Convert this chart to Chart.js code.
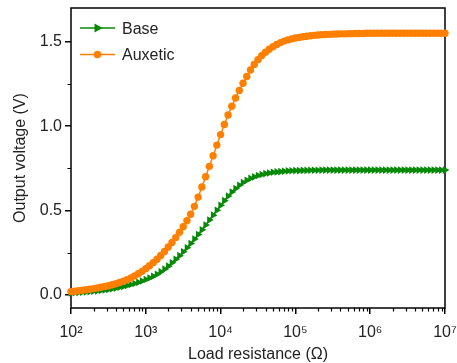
<!DOCTYPE html>
<html><head><meta charset="utf-8">
<script src="https://cdn.jsdelivr.net/npm/chart.js@4/dist/chart.umd.min.js"></script>
<style>html,body{margin:0;padding:0;background:#fff}#wrap{width:457px;height:363px}</style>
</head><body><div id="wrap"><canvas id="c" width="457" height="363"></canvas></div>
<script>
// log10 of load resistance (Ohm)
const exponents = [2.00,2.05,2.10,2.15,2.20,2.25,2.30,2.35,2.40,2.45,2.50,2.55,2.60,2.65,2.70,2.75,2.80,2.85,2.90,2.95,
3.00,3.05,3.10,3.15,3.20,3.25,3.30,3.35,3.40,3.45,3.50,3.55,3.60,3.65,3.70,3.75,3.80,3.85,3.90,3.95,
4.00,4.05,4.10,4.15,4.20,4.25,4.30,4.35,4.40,4.45,4.50,4.55,4.60,4.65,4.70,4.75,4.80,4.85,4.90,4.95,
5.00,5.05,5.10,5.15,5.20,5.25,5.30,5.35,5.40,5.45,5.50,5.55,5.60,5.65,5.70,5.75,5.80,5.85,5.90,5.95,
6.00,6.05,6.10,6.15,6.20,6.25,6.30,6.35,6.40,6.45,6.50,6.55,6.60,6.65,6.70,6.75,6.80,6.85,6.90,6.95,7.00];
const baseVoltage = [0.012,0.013,0.015,0.016,0.018,0.020,0.022,0.024,0.027,0.030,0.033,0.037,0.041,0.046,0.051,0.057,0.062,0.068,0.075,0.083,
0.092,0.101,0.111,0.123,0.137,0.153,0.171,0.191,0.212,0.233,0.256,0.280,0.305,0.331,0.358,0.386,0.415,0.444,0.473,0.502,
0.531,0.559,0.586,0.610,0.631,0.650,0.666,0.680,0.691,0.700,0.708,0.714,0.719,0.723,0.727,0.729,0.731,0.733,0.735,0.736,
0.737,0.737,0.738,0.738,0.739,0.739,0.739,0.740,0.740,0.740,0.740,0.740,0.740,0.740,0.740,0.740,0.740,0.740,0.740,0.740,
0.740,0.740,0.740,0.740,0.740,0.740,0.740,0.740,0.740,0.740,0.740,0.740,0.740,0.740,0.740,0.740,0.740,0.740,0.740,0.740,0.740];
const auxeticVoltage = [0.020,0.022,0.025,0.028,0.031,0.034,0.038,0.042,0.046,0.050,0.055,0.061,0.067,0.074,0.082,0.091,0.101,0.113,0.126,0.140,
0.156,0.173,0.192,0.212,0.234,0.258,0.284,0.311,0.340,0.371,0.404,0.440,0.478,0.525,0.580,0.640,0.700,0.762,0.825,0.888,
0.950,1.010,1.066,1.118,1.167,1.212,1.254,1.294,1.333,1.366,1.394,1.418,1.438,1.456,1.471,1.484,1.495,1.504,1.511,1.517,
1.522,1.526,1.530,1.533,1.536,1.538,1.540,1.542,1.543,1.544,1.545,1.546,1.547,1.547,1.548,1.548,1.549,1.549,1.549,1.550,
1.550,1.550,1.550,1.550,1.550,1.550,1.550,1.550,1.550,1.550,1.550,1.550,1.550,1.550,1.550,1.550,1.550,1.550,1.550,1.550,1.550];
const seriesNames = ['Base', 'Auxetic'];
const xTickExponents = [2, 3, 4, 5, 6, 7];
const yTickValues = [0, 0.5, 1.0, 1.5];
const yMinorTicks = [0.25, 0.75, 1.25];
const xTitle = 'Load resistance (\u03A9)';
const yTitle = 'Output voltage (V)';

const GREEN = '#068a06';
const ORANGE = '#ff8000';
const FONT = "'Liberation Sans', Arial, sans-serif";
const sup = {'0':'\u2070','1':'\u00B9','2':'\u00B2','3':'\u00B3','4':'\u2074','5':'\u2075','6':'\u2076','7':'\u2077','8':'\u2078','9':'\u2079'};

const toPts = arr => exponents.map((e, i) => ({x: Math.pow(10, e), y: arr[i]}));

const frame = {
  id: 'frame',
  beforeDatasetsDraw(chart) {
    const {ctx, chartArea: a, scales} = chart;
    ctx.save();
    ctx.strokeStyle = '#000';
    ctx.lineWidth = 1.5;
    ctx.strokeRect(a.left, a.top, a.right - a.left, a.bottom - a.top);
    ctx.lineWidth = 1.2;
    ctx.beginPath();
    for (let n = 2; n < 7; n++) {
      for (let k = 2; k <= 9; k++) {
        const x = Math.round(scales.x.getPixelForValue(k * Math.pow(10, n))) + 0.5;
        ctx.moveTo(x, a.bottom); ctx.lineTo(x, a.bottom + 3.5);
      }
    }
    yMinorTicks.forEach(v => {
      const y = Math.round(scales.y.getPixelForValue(v)) + 0.5;
      ctx.moveTo(a.left, y); ctx.lineTo(a.left - 3.5, y);
    });
    ctx.stroke();
    ctx.restore();
  },
  afterDatasetsDraw(chart) {
    const {ctx, chartArea: a} = chart;
    ctx.save();
    const items = [
      {name: seriesNames[0], color: GREEN, y: a.top + 20, tri: true},
      {name: seriesNames[1], color: ORANGE, y: a.top + 46.5, tri: false}
    ];
    items.forEach(it => {
      const x0 = a.left + 9, x1 = a.left + 44, xm = (x0 + x1) / 2;
      ctx.strokeStyle = it.color; ctx.fillStyle = it.color; ctx.lineWidth = 1.5;
      ctx.beginPath(); ctx.moveTo(x0, it.y); ctx.lineTo(x1, it.y); ctx.stroke();
      ctx.beginPath();
      if (it.tri) {
        ctx.moveTo(xm + 5, it.y); ctx.lineTo(xm - 3, it.y - 4.5); ctx.lineTo(xm - 3, it.y + 4.5); ctx.closePath();
      } else {
        ctx.arc(xm, it.y, 3.8, 0, Math.PI * 2);
      }
      ctx.fill();
      ctx.fillStyle = '#222';
      ctx.font = '16px ' + FONT;
      ctx.textBaseline = 'middle';
      ctx.fillText(it.name, a.left + 51, it.y + 1.5);
    });
    ctx.restore();
  }
};

new Chart(document.getElementById('c'), {
  type: 'line',
  data: {
    datasets: [
      {label: seriesNames[0], data: toPts(baseVoltage), borderColor: GREEN, backgroundColor: GREEN,
       borderWidth: 1.5, pointStyle: 'triangle', rotation: 90, pointRadius: 4.4, pointBorderWidth: 0,
       clip: false, order: 2},
      {label: seriesNames[1], data: toPts(auxeticVoltage), borderColor: ORANGE, backgroundColor: ORANGE,
       borderWidth: 1.5, pointStyle: 'circle', pointRadius: 3.7, pointBorderWidth: 0,
       clip: false, order: 1}
    ]
  },
  options: {
    responsive: false,
    animation: false,
    devicePixelRatio: 1,
    layout: {padding: {top: 8, right: 12, left: 0, bottom: 0}},
    plugins: {legend: {display: false}, tooltip: {enabled: false}},
    scales: {
      x: {
        type: 'logarithmic', min: 100, max: 1e7,
        afterBuildTicks: s => { s.ticks = xTickExponents.map(e => ({value: Math.pow(10, e), major: true})); },
        afterFit: s => { s.height = 55; s.paddingLeft = 0; s.paddingRight = 0; },
        ticks: {
          color: '#222', font: {family: FONT, size: 16}, padding: 9, maxRotation: 0, autoSkip: false,
          callback: v => '10' + String(Math.round(Math.log10(v))).split('').map(c => sup[c]).join('')
        },
        grid: {display: true, drawOnChartArea: false, drawTicks: true, tickLength: 6, color: '#000', lineWidth: 1.5},
        border: {display: false},
        title: {display: true, text: xTitle, color: '#222', font: {family: FONT, size: 16, lineHeight: 1.0}, padding: {top: 0, bottom: 0}}
      },
      y: {
        type: 'linear', min: -0.077, max: 1.70,
        afterBuildTicks: s => { s.ticks = yTickValues.map(v => ({value: v})); },
        afterFit: s => { s.width = 71; s.paddingTop = 0; s.paddingBottom = 0; },
        ticks: {
          color: '#222', font: {family: FONT, size: 16}, padding: 3,
          callback: v => v.toFixed(1)
        },
        grid: {display: true, drawOnChartArea: false, drawTicks: true, tickLength: 6, color: '#000', lineWidth: 1.5},
        border: {display: false},
        title: {display: true, text: yTitle, color: '#222', font: {family: FONT, size: 16}, padding: {top: 11, bottom: 0}}
      }
    }
  },
  plugins: [frame]
});
</script>
</body></html>
